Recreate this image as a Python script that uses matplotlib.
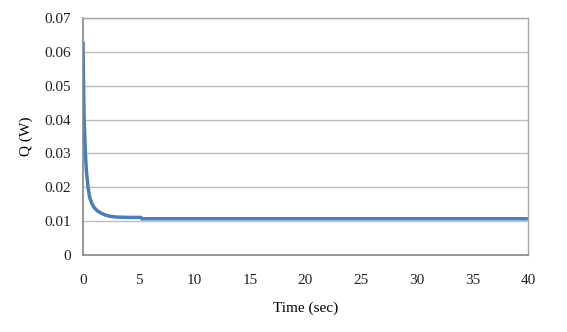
import matplotlib.pyplot as plt

# Heat flow Q vs time
time_sec = [0, 0.05, 0.1, 0.2, 0.3, 0.45, 0.6, 0.8, 1.0, 1.3, 1.6, 2.0, 2.5,
            3.0, 4.0, 5.2, 5.3, 10, 20, 30, 40]
q_watt = [0.063, 0.050, 0.040, 0.031, 0.025, 0.020, 0.017, 0.0152, 0.0140,
          0.0130, 0.0124, 0.0118, 0.0114, 0.0112, 0.0111, 0.0111, 0.0107,
          0.0107, 0.0107, 0.0107, 0.0107]
x_ticks = [0, 5, 10, 15, 20, 25, 30, 35, 40]
y_ticks = [0, 0.01, 0.02, 0.03, 0.04, 0.05, 0.06, 0.07]
y_tick_labels = ["0", "0.01", "0.02", "0.03", "0.04", "0.05", "0.06", "0.07"]

plt.rcParams['font.family'] = ['Liberation Serif', 'DejaVu Serif']

fig = plt.figure(figsize=(5.67, 3.32), dpi=100)
ax = fig.add_axes([0.1464, 0.232, 0.7848, 0.7138])

ax.plot(time_sec, q_watt, color='#4a7ebb', linewidth=2.5, solid_capstyle='butt')

ax.set_xlim(0, 40)
ax.set_ylim(0, 0.07)
ax.set_xticks(x_ticks)
ax.set_yticks(y_ticks)
ax.set_yticklabels(y_tick_labels)
ax.tick_params(length=0, labelsize=11, colors='#222222', pad=9)
ax.tick_params(axis='x', pad=14)
ax.grid(axis='y', color='#bdbdbd', linewidth=1)
ax.set_axisbelow(True)
for side in ['left', 'bottom']:
    ax.spines[side].set_color('#858585')
    ax.spines[side].set_linewidth(1.2)
for side in ['top', 'right']:
    ax.spines[side].set_color('#a6a6a6')
    ax.spines[side].set_linewidth(1)

ax.set_xlabel("Time (sec)", fontsize=11, labelpad=10)
ax.set_ylabel("Q (W)", fontsize=11, labelpad=8)

fig.savefig("out.png", dpi=100)
